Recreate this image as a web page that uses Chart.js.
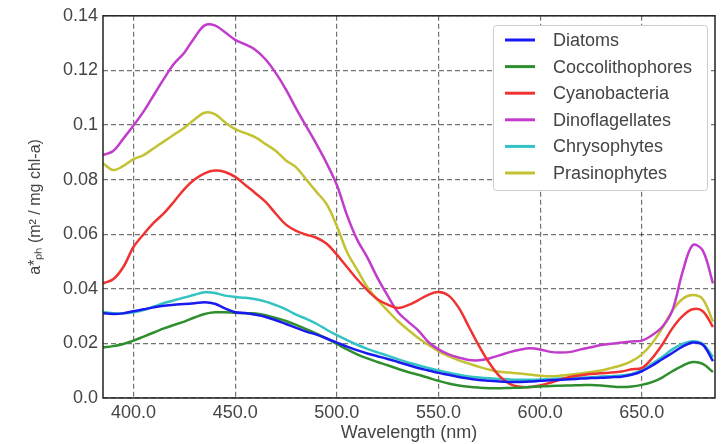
<!DOCTYPE html>
<html>
<head>
<meta charset="utf-8">
<script src="https://cdn.jsdelivr.net/npm/chart.js@4.4.1/dist/chart.umd.min.js"></script>
<style>
  body { margin: 0; background: #fff; }
  #wrap { width: 721px; height: 444px; }
</style>
</head>
<body>
<div id="wrap"><canvas id="myChart" width="721" height="444"></canvas></div>
<script>
// Wavelengths (nm), every 5 nm
const wavelengths = [385, 390, 395, 400, 405, 410, 415, 420, 425, 430, 435, 440, 445, 450, 455, 460, 465, 470, 475, 480,
  485, 490, 495, 500, 505, 510, 515, 520, 525, 530, 535, 540, 545, 550, 555, 560, 565, 570, 575, 580,
  585, 590, 595, 600, 605, 610, 615, 620, 625, 630, 635, 640, 645, 650, 655, 660, 665, 670, 675, 680, 685];

const diatoms = [0.0310, 0.0308, 0.0310, 0.0318, 0.0325, 0.0332, 0.0338, 0.0342, 0.0344, 0.0347, 0.0351, 0.0345, 0.0328, 0.0314, 0.0311, 0.0305, 0.0297, 0.0285, 0.0271, 0.0257,
  0.0243, 0.0232, 0.0218, 0.0203, 0.0188, 0.0175, 0.0163, 0.0153, 0.0143, 0.0132, 0.0121, 0.0110, 0.0101, 0.0092, 0.0085, 0.0077, 0.0071, 0.0066, 0.0063, 0.0060,
  0.0059, 0.0059, 0.0060, 0.0063, 0.0065, 0.0067, 0.0069, 0.0071, 0.0073, 0.0074, 0.0076, 0.0078, 0.0085, 0.0098, 0.0118, 0.0142, 0.0165, 0.0188, 0.0203, 0.0195, 0.0135];

const coccolithophores = [0.0185, 0.0190, 0.0198, 0.0210, 0.0225, 0.0240, 0.0255, 0.0268, 0.0280, 0.0295, 0.0308, 0.0314, 0.0314, 0.0312, 0.0310, 0.0310, 0.0303, 0.0293, 0.0282, 0.0268,
  0.0252, 0.0236, 0.0218, 0.0198, 0.0178, 0.0160, 0.0145, 0.0132, 0.0120, 0.0107, 0.0095, 0.0085, 0.0074, 0.0063, 0.0053, 0.0046, 0.0041, 0.0038, 0.0036, 0.0036,
  0.0037, 0.0038, 0.0040, 0.0042, 0.0044, 0.0045, 0.0046, 0.0047, 0.0048, 0.0046, 0.0042, 0.0040, 0.0042, 0.0048, 0.0058, 0.0075, 0.0098, 0.0118, 0.0132, 0.0125, 0.0095];

const cyanobacteria = [0.0420, 0.0435, 0.0480, 0.0553, 0.0600, 0.0642, 0.0677, 0.0720, 0.0765, 0.0800, 0.0823, 0.0833, 0.0828, 0.0810, 0.0780, 0.0750, 0.0718, 0.0675, 0.0635, 0.0612,
  0.0598, 0.0587, 0.0565, 0.0525, 0.0480, 0.0435, 0.0395, 0.0362, 0.0342, 0.0330, 0.0340, 0.0358, 0.0378, 0.0388, 0.0375, 0.0330, 0.0260, 0.0190, 0.0128, 0.0080,
  0.0052, 0.0041, 0.0040, 0.0046, 0.0056, 0.0068, 0.0078, 0.0083, 0.0088, 0.0091, 0.0093, 0.0097, 0.0105, 0.0110, 0.0145, 0.0195, 0.0255, 0.0300, 0.0325, 0.0318, 0.0260];

const dinoflagellates = [0.0890, 0.0905, 0.0950, 0.0998, 0.1050, 0.1110, 0.1170, 0.1225, 0.1265, 0.1320, 0.1365, 0.1365, 0.1340, 0.1312, 0.1295, 0.1275, 0.1240, 0.1190, 0.1130, 0.1060,
  0.0995, 0.0930, 0.0860, 0.0780, 0.0670, 0.0580, 0.0515, 0.0440, 0.0375, 0.0315, 0.0280, 0.0248, 0.0205, 0.0178, 0.0160, 0.0148, 0.0139, 0.0138, 0.0145, 0.0156,
  0.0168, 0.0177, 0.0182, 0.0178, 0.0169, 0.0167, 0.0169, 0.0178, 0.0186, 0.0194, 0.0199, 0.0203, 0.0207, 0.0210, 0.0230, 0.0260, 0.0320, 0.0460, 0.0560, 0.0540, 0.0420];

const chrysophytes = [0.0315, 0.0310, 0.0310, 0.0314, 0.0322, 0.0335, 0.0348, 0.0358, 0.0368, 0.0378, 0.0387, 0.0385, 0.0375, 0.0370, 0.0367, 0.0362, 0.0353, 0.0340, 0.0325, 0.0305,
  0.0290, 0.0272, 0.0250, 0.0230, 0.0212, 0.0195, 0.0180, 0.0167, 0.0155, 0.0142, 0.0130, 0.0120, 0.0110, 0.0101, 0.0093, 0.0085, 0.0079, 0.0075, 0.0072, 0.0070,
  0.0068, 0.0067, 0.0067, 0.0068, 0.0070, 0.0071, 0.0072, 0.0074, 0.0076, 0.0079, 0.0080, 0.0082, 0.0088, 0.0102, 0.0125, 0.0150, 0.0178, 0.0198, 0.0208, 0.0198, 0.0150];

const prasinophytes = [0.0860, 0.0835, 0.0850, 0.0875, 0.0890, 0.0915, 0.0940, 0.0965, 0.0990, 0.1020, 0.1045, 0.1040, 0.1010, 0.0985, 0.0970, 0.0955, 0.0930, 0.0905, 0.0870, 0.0845,
  0.0800, 0.0755, 0.0710, 0.0630, 0.0535, 0.0470, 0.0406, 0.0360, 0.0320, 0.0282, 0.0250, 0.0220, 0.0195, 0.0172, 0.0153, 0.0138, 0.0126, 0.0114, 0.0104, 0.0096,
  0.0093, 0.0090, 0.0086, 0.0082, 0.0080, 0.0082, 0.0086, 0.0090, 0.0095, 0.0101, 0.0110, 0.0120, 0.0135, 0.0160, 0.0200, 0.0255, 0.0320, 0.0363, 0.0377, 0.0362, 0.0280];

const seriesNames = ['Diatoms', 'Coccolithophores', 'Cyanobacteria', 'Dinoflagellates', 'Chrysophytes', 'Prasinophytes'];
const seriesValues = [diatoms, coccolithophores, cyanobacteria, dinoflagellates, chrysophytes, prasinophytes];
const seriesColors = ['#1a1af0', '#2f8f2f', '#f03232', '#c23ccc', '#33c3c3', '#c2c233'];

const xTicks = [400, 450, 500, 550, 600, 650];
const yTicks = [0, 0.02, 0.04, 0.06, 0.08, 0.1, 0.12, 0.14];
const yTickLabels = ['0.0', '0.02', '0.04', '0.06', '0.08', '0.1', '0.12', '0.14'];

const textColor = '#444';
const gridColor = 'rgba(0,0,0,0.55)';

// frame around the plot + boxed legend in the upper right
const frameAndLegend = {
  id: 'frameAndLegend',
  afterDraw(chart) {
    const { ctx, chartArea: a } = chart;
    ctx.save();
    ctx.strokeStyle = '#222';
    ctx.lineWidth = 1.5;
    ctx.strokeRect(a.left, a.top, a.right - a.left, a.bottom - a.top);

    const bx = 493, by = 25, bw = 214, bh = 165;
    ctx.fillStyle = '#fff';
    ctx.strokeStyle = '#cfcfcf';
    ctx.lineWidth = 1;
    ctx.beginPath();
    ctx.roundRect(bx + 0.5, by + 0.5, bw, bh, 3);
    ctx.fill();
    ctx.stroke();

    ctx.font = '18px "Liberation Sans", Arial, sans-serif';
    ctx.textBaseline = 'middle';
    chart.data.datasets.forEach((ds, i) => {
      const y = 40 + i * 26.6;
      ctx.strokeStyle = ds.borderColor;
      ctx.lineWidth = 3;
      ctx.beginPath();
      ctx.moveTo(505, y);
      ctx.lineTo(535, y);
      ctx.stroke();
      ctx.fillStyle = textColor;
      ctx.fillText(ds.label, 553, y + 1);
    });
    ctx.restore();
  }
};

const ctx = document.getElementById('myChart').getContext('2d');
new Chart(ctx, {
  type: 'line',
  data: {
    datasets: seriesNames.map((name, i) => ({
      label: name,
      data: wavelengths.map((w, j) => ({ x: w, y: seriesValues[i][j] })),
      borderColor: seriesColors[i],
      backgroundColor: seriesColors[i],
      borderWidth: 2.5,
      pointRadius: 0,
      tension: 0.35,
      fill: false
    }))
  },
  options: {
    responsive: false,
    animation: false,
    layout: { padding: { top: 15, right: 6, left: 0, bottom: 0 } },
    plugins: {
      legend: { display: false },
      tooltip: { enabled: false }
    },
    scales: {
      x: {
        type: 'linear',
        min: 385,
        max: 686,
        afterBuildTicks: (s) => { s.ticks = xTicks.map(v => ({ value: v })); },
        afterFit: (s) => { s.height = 46; },
        ticks: {
          color: textColor,
          font: { size: 18, family: '"Liberation Sans", Arial, sans-serif' },
          padding: 4,
          maxRotation: 0,
          callback: (v) => Number(v).toFixed(1)
        },
        grid: { color: gridColor, lineWidth: 1.2, drawTicks: false },
        border: { display: false, dash: [5, 3] },
        title: {
          display: true,
          text: 'Wavelength (nm)',
          color: textColor,
          font: { size: 18, family: '"Liberation Sans", Arial, sans-serif' },
          padding: { top: 0, bottom: 0 }
        }
      },
      y: {
        min: 0,
        max: 0.14,
        afterBuildTicks: (s) => { s.ticks = yTicks.map(v => ({ value: v })); },
        afterFit: (s) => { s.width = 103; },
        ticks: {
          color: textColor,
          font: { size: 18, family: '"Liberation Sans", Arial, sans-serif' },
          padding: 5,
          callback: (v) => yTickLabels[yTicks.findIndex(t => Math.abs(t - v) < 1e-9)]
        },
        grid: { color: gridColor, lineWidth: 1.2, drawTicks: false },
        border: { display: false, dash: [5, 3] },
        title: {
          display: true,
          text: 'a*ₚₕ (m² / mg chl-a)',
          color: textColor,
          font: { size: 16, family: '"Liberation Sans", Arial, sans-serif' },
          padding: { top: 26, bottom: 0 }
        }
      }
    }
  },
  plugins: [frameAndLegend]
});
</script>
</body>
</html>
